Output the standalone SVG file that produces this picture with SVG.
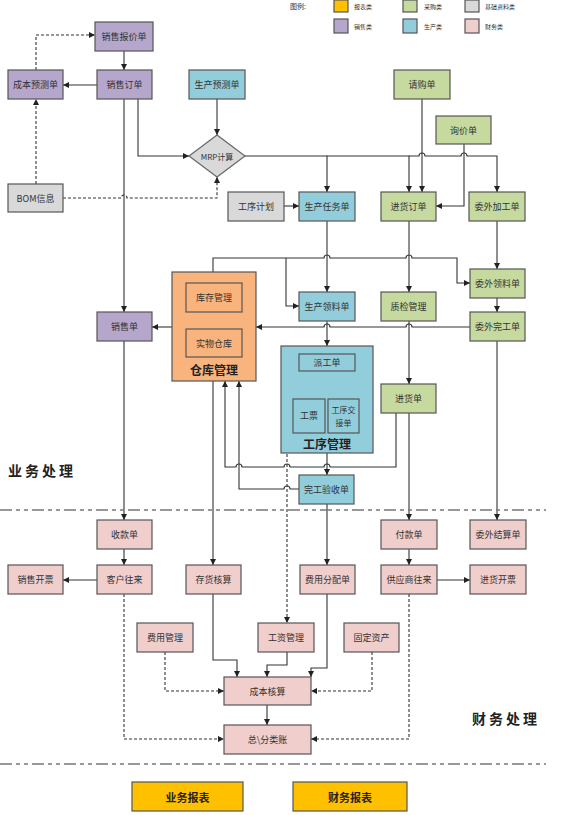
<svg xmlns="http://www.w3.org/2000/svg" width="562" height="815" viewBox="0 0 562 815">
<defs>
<marker id="arr" markerWidth="6" markerHeight="6" refX="6" refY="3" orient="auto" markerUnits="userSpaceOnUse"><path d="M0,0 L6,3 L0,6 z" fill="#222"/></marker>
<style>
text{font-family:"Noto Sans CJK SC","Liberation Serif",sans-serif;fill:#333}
.t{font-size:9px;text-anchor:middle;dominant-baseline:central}
.lg{font-size:6px;dominant-baseline:central}
.big{font-size:12px;font-weight:bold;text-anchor:middle;dominant-baseline:central;fill:#222}
.sec{font-size:14px;font-weight:bold;dominant-baseline:central;letter-spacing:3px;fill:#222}
.rt{font-size:11px;font-weight:bold;text-anchor:middle;dominant-baseline:central;fill:#222}
rect{stroke:#555;stroke-width:1.2}
.sale{fill:#B5A6CC}.prod{fill:#92CDDC}.pur{fill:#C6D99F}.base{fill:#D9D9D9}.fin{fill:#F0CECC}.rep{fill:#FFC000}.wh{fill:#F9B47D}
.c path{fill:none;stroke:#333;stroke-width:1.1}
.c .a{marker-end:url(#arr)}
.c .d{stroke-dasharray:3,2}
.sep{stroke:#777;stroke-width:1.5;stroke-dasharray:12,4,4,4,4,4;fill:none}
</style>
</defs>
<rect x="0" y="0" width="562" height="815" style="fill:#fff;stroke:none"/>

<g id="legend">
<text x="290" y="6" style="font-size:7px;dominant-baseline:central">图例:</text>
<rect class="rep" x="334" y="0" width="14" height="12"/><text class="lg" x="354" y="6">报表类</text>
<rect class="pur" x="403" y="0" width="14" height="12"/><text class="lg" x="424" y="6">采购类</text>
<rect class="base" x="465" y="0" width="14" height="12"/><text class="lg" x="485" y="6">基础资料类</text>
<rect class="sale" x="334" y="19" width="14" height="14"/><text class="lg" x="354" y="26">销售类</text>
<rect class="prod" x="403" y="19" width="14" height="14"/><text class="lg" x="424" y="26">生产类</text>
<rect class="fin" x="465" y="19" width="14" height="14"/><text class="lg" x="485" y="26">财务类</text>
</g>

<g class="c" id="connectors">
<path class="a" d="M124,51 V70"/>
<path class="a" d="M97,85 H63"/>
<path class="a d" d="M36,70 V35 H95"/>
<path class="a d" d="M36,184 V99"/>
<path class="a d" d="M63,198 H121 a3,3 0 0 1 6,0 H217 V177"/>
<path class="a" d="M138,99 V156 H189"/>
<path class="a" d="M124,99 V312"/>
<path class="a" d="M217,99 V135"/>
<path class="a" d="M245,156 H327 V192"/>
<path class="a" d="M327,156 H409 V192"/>
<path class="a" d="M409,156 H419 a3,3 0 0 1 6,0 H461 a3,3 0 0 1 6,0 H497 V192"/>
<path class="a" d="M422,99 V192"/>
<path class="a" d="M464,144 V206 H436"/>
<path class="a" d="M284,206 H299"/>
<path class="a" d="M327,221 V292"/>
<path class="a" d="M409,221 V292"/>
<path class="a" d="M497,221 V269"/>
<path class="a" d="M213,272 V258 H324 a3,3 0 0 1 6,0 H406 a3,3 0 0 1 6,0 H457 V283 H470"/>
<path class="a" d="M286,258 V306 H299"/>
<path class="a" d="M497,298 V312"/>
<path class="a" d="M470,327 H412 a3,3 0 0 0 -6,0 H330 a3,3 0 0 0 -6,0 H256"/>
<path class="a" d="M172,327 H152"/>
<path class="a" d="M327,321 V346"/>
<path class="a" d="M409,321 V384"/>
<path class="a" d="M201,312 V329"/>
<path class="a" d="M224,329 V312"/>
<path class="a" d="M327,371 V385 H309 V399"/>
<path class="a" d="M327,385 H343 V399"/>
<path class="a d" d="M293,415 H287 V623"/>
<path class="a" d="M396,413 V467 H330 a3,3 0 0 0 -6,0 H290 a3,3 0 0 0 -6,0 H242 a3,3 0 0 0 -6,0 H225 V381"/>
<path class="a" d="M299,489 H290 a3,3 0 0 0 -6,0 H239 V381"/>
<path class="a" d="M327,453 V475"/>
<path class="a" d="M327,504 V565"/>
<path class="a" d="M409,413 V520"/>
<path class="a" d="M497,341 V520"/>
<path class="a" d="M124,341 V520"/>
<path class="a" d="M124,549 V565"/>
<path class="a" d="M97,580 H63"/>
<path class="a" d="M213,381 V565"/>
<path class="a" d="M409,549 V565"/>
<path class="a" d="M437,580 H470"/>
<path class="a" d="M213,594 V660 H237 V677"/>
<path class="a" d="M287,652 V665 H267 V677"/>
<path class="a" d="M327,594 V668 H311 V677"/>
<path class="a d" d="M165,652 V691 H224"/>
<path class="a d" d="M372,652 V691 H311"/>
<path class="a" d="M267,705 V725"/>
<path class="a d" d="M124,594 V739 H224"/>
<path class="a d" d="M409,594 V739 H311"/>
</g>

<g id="separators">
<path class="sep" d="M0,510 H546"/>
<path class="sep" d="M0,764 H546"/>
<text class="sec" x="8" y="470">业务处理</text>
<text class="sec" x="472" y="718">财务处理</text>
</g>

<g id="n-xsbjd"><rect class="sale" x="95" y="22" width="58" height="29"/><text class="t" x="124" y="36.5">销售报价单</text></g>
<g id="n-cbycd"><rect class="sale" x="8" y="70" width="55" height="29"/><text class="t" x="35.5" y="84.5">成本预测单</text></g>
<g id="n-xsdd"><rect class="sale" x="97" y="70" width="55" height="29"/><text class="t" x="124.5" y="84.5">销售订单</text></g>
<g id="n-scycd"><rect class="prod" x="189" y="70" width="56" height="29"/><text class="t" x="217" y="84.5">生产预测单</text></g>
<g id="n-qgd"><rect class="pur" x="394" y="70" width="56" height="29"/><text class="t" x="422" y="84.5">请购单</text></g>
<g id="n-xjd"><rect class="pur" x="436" y="116" width="55" height="28"/><text class="t" x="463.5" y="130">询价单</text></g>
<g id="n-mrp"><polygon points="217,135 245,156 217,177 189,156" fill="#D9D9D9" stroke="#666" stroke-width="1.2"/><text class="t" x="217" y="156" style="font-size:8px">MRP计算</text></g>
<g id="n-bom"><rect class="base" x="8" y="184" width="55" height="28"/><text class="t" x="35.5" y="198">BOM信息</text></g>
<g id="n-gxjh"><rect class="base" x="228" y="192" width="56" height="29"/><text class="t" x="256" y="206.5">工序计划</text></g>
<g id="n-scrwd"><rect class="prod" x="299" y="192" width="56" height="29"/><text class="t" x="327" y="206.5">生产任务单</text></g>
<g id="n-jhdd"><rect class="pur" x="381" y="192" width="55" height="29"/><text class="t" x="408.5" y="206.5">进货订单</text></g>
<g id="n-wwjgd"><rect class="pur" x="469" y="192" width="56" height="29"/><text class="t" x="497" y="206.5">委外加工单</text></g>
<g id="n-wwlld"><rect class="pur" x="470" y="269" width="55" height="29"/><text class="t" x="497.5" y="283.5">委外领料单</text></g>
<g id="n-cklgl">
<rect class="wh" x="172" y="272" width="84" height="109"/>
<rect class="wh" x="186" y="283" width="56" height="29"/><text class="t" x="214" y="297.5">库存管理</text>
<rect class="wh" x="186" y="329" width="56" height="28"/><text class="t" x="214" y="343">实物仓库</text>
<text class="big" x="214" y="369">仓库管理</text>
</g>
<g id="n-xsd"><rect class="sale" x="97" y="312" width="55" height="29"/><text class="t" x="124.5" y="326.5">销售单</text></g>
<g id="n-scll"><rect class="prod" x="299" y="292" width="56" height="29"/><text class="t" x="327" y="306.5">生产领料单</text></g>
<g id="n-zjgl"><rect class="pur" x="381" y="292" width="55" height="29"/><text class="t" x="408.5" y="306.5">质检管理</text></g>
<g id="n-wwwgd"><rect class="pur" x="470" y="312" width="55" height="29"/><text class="t" x="497.5" y="326.5">委外完工单</text></g>
<g id="n-gxgl">
<rect class="prod" x="281" y="346" width="92" height="107"/>
<rect class="prod" x="299" y="354" width="56" height="17"/><text class="t" x="327" y="362.5">派工单</text>
<rect class="prod" x="293" y="399" width="32" height="34"/><text class="t" x="309" y="415">工票</text>
<rect class="prod" x="328" y="399" width="31" height="34"/><text class="t" x="343.5" y="409.5" style="font-size:8px">工序交</text><text class="t" x="343.5" y="422" style="font-size:8px">接单</text>
<text class="big" x="327" y="443">工序管理</text>
</g>
<g id="n-jhd"><rect class="pur" x="381" y="384" width="55" height="29"/><text class="t" x="408.5" y="398.5">进货单</text></g>
<g id="n-wgysd"><rect class="prod" x="299" y="475" width="55" height="29"/><text class="t" x="326.5" y="489.5">完工验收单</text></g>
<g id="n-skd"><rect class="fin" x="97" y="520" width="55" height="29"/><text class="t" x="124.5" y="534.5">收款单</text></g>
<g id="n-fkd"><rect class="fin" x="381" y="520" width="56" height="29"/><text class="t" x="409" y="534.5">付款单</text></g>
<g id="n-wwjsd"><rect class="fin" x="470" y="520" width="56" height="29"/><text class="t" x="498" y="534.5">委外结算单</text></g>
<g id="n-xskp"><rect class="fin" x="8" y="565" width="55" height="29"/><text class="t" x="35.5" y="579.5">销售开票</text></g>
<g id="n-khwl"><rect class="fin" x="97" y="565" width="55" height="29"/><text class="t" x="124.5" y="579.5">客户往来</text></g>
<g id="n-chhs"><rect class="fin" x="186" y="565" width="55" height="29"/><text class="t" x="213.5" y="579.5">存货核算</text></g>
<g id="n-fyfpd"><rect class="fin" x="300" y="565" width="55" height="29"/><text class="t" x="327.5" y="579.5">费用分配单</text></g>
<g id="n-gyswl"><rect class="fin" x="381" y="565" width="56" height="29"/><text class="t" x="409" y="579.5">供应商往来</text></g>
<g id="n-jhkp"><rect class="fin" x="470" y="565" width="56" height="29"/><text class="t" x="498" y="579.5">进货开票</text></g>
<g id="n-fygl"><rect class="fin" x="137" y="623" width="56" height="29"/><text class="t" x="165" y="637.5">费用管理</text></g>
<g id="n-gzgl"><rect class="fin" x="258" y="623" width="56" height="29"/><text class="t" x="286" y="637.5">工资管理</text></g>
<g id="n-gdzc"><rect class="fin" x="344" y="623" width="55" height="29"/><text class="t" x="371.5" y="637.5">固定资产</text></g>
<g id="n-cbhs"><rect class="fin" x="224" y="677" width="87" height="28"/><text class="t" x="267.5" y="691">成本核算</text></g>
<g id="n-zflz"><rect class="fin" x="224" y="725" width="87" height="29"/><text class="t" x="267.5" y="739.5">总\分类账</text></g>
<g id="n-ywbb"><rect class="rep" x="132" y="782" width="111" height="29"/><text class="rt" x="187.5" y="796.5">业务报表</text></g>
<g id="n-cwbb"><rect class="rep" x="293" y="782" width="114" height="29"/><text class="rt" x="350" y="796.5">财务报表</text></g>
</svg>
